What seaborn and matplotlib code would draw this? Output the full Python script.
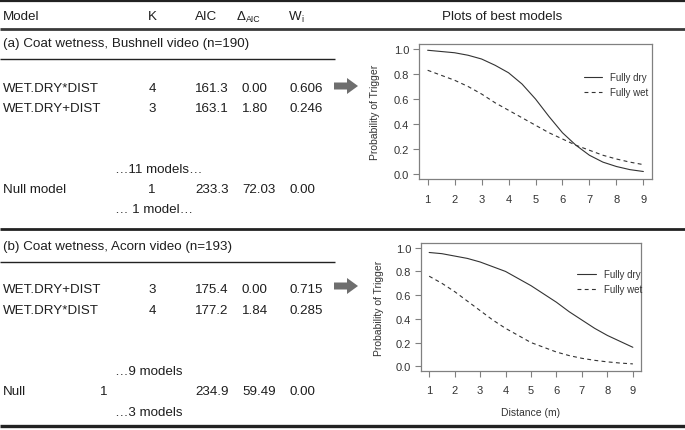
import seaborn as sns
import matplotlib.pyplot as plt
import numpy as np
import pandas as pd
from matplotlib.patches import FancyArrow

# ---- table data ----
header = ['Model', 'K', 'AIC', 'W']
title_a = '(a) Coat wetness, Bushnell video (n=190)'
models_a = ['WET.DRY*DIST', 'WET.DRY+DIST', 'Null model']
k_a = ['4', '3', '1']
aic_a = ['161.3', '163.1', '233.3']
delta_a = ['0.00', '1.80', '72.03']
w_a = ['0.606', '0.246', '0.00']
notes_a = ['\u202611 models\u2026', '\u2026 1 model\u2026']

title_b = '(b) Coat wetness, Acorn video (n=193)'
models_b = ['WET.DRY+DIST', 'WET.DRY*DIST', 'Null']
k_b = ['3', '4', '1']
aic_b = ['175.4', '177.2', '234.9']
delta_b = ['0.00', '1.84', '59.49']
w_b = ['0.715', '0.285', '0.00']
notes_b = ['\u20269 models', '\u20263 models']

# ---- curve data ----
distance = [1, 1.5, 2, 2.5, 3, 3.5, 4, 4.5, 5, 5.5, 6, 6.5, 7, 7.5, 8, 8.5, 9]
dry_a = [0.99, 0.98, 0.97, 0.95, 0.92, 0.87, 0.81, 0.72, 0.60, 0.46, 0.33, 0.23, 0.15, 0.095, 0.06, 0.035, 0.02]
wet_a = [0.83, 0.79, 0.75, 0.70, 0.64, 0.57, 0.51, 0.45, 0.39, 0.33, 0.28, 0.23, 0.19, 0.15, 0.12, 0.095, 0.075]
dry_b = [0.96, 0.95, 0.93, 0.91, 0.88, 0.84, 0.80, 0.74, 0.68, 0.61, 0.54, 0.46, 0.39, 0.32, 0.26, 0.21, 0.16]
wet_b = [0.76, 0.70, 0.63, 0.55, 0.47, 0.39, 0.32, 0.26, 0.20, 0.16, 0.12, 0.09, 0.067, 0.05, 0.037, 0.027, 0.02]
coats = ['Fully dry', 'Fully wet']

sns.set_style('white')
plt.rcParams['font.family'] = ['Liberation Sans', 'DejaVu Sans']

W, H = 685, 431
fig = plt.figure(figsize=(W / 100, H / 100), dpi=100)

# background axes in pixel coordinates for the table
bg = fig.add_axes([0, 0, 1, 1])
bg.set_xlim(0, W)
bg.set_ylim(H, 0)
bg.axis('off')

txt = '#1e1e1e'
fs = 9.6


def hline(y, x1, lw, color='#222222'):
    bg.plot([0, x1], [y, y], color=color, lw=lw, solid_capstyle='butt')


hline(1.5, W, 1.6)
hline(29.5, W, 2.0, '#3a3a3a')
hline(60, 335, 1.0)
hline(229.5, W, 2.0)
hline(262.5, 335, 1.0)
hline(427.5, W, 2.4)

# header
bg.text(3, 19.5, header[0], fontsize=fs, color=txt, va='baseline')
bg.text(152, 19.5, header[1], fontsize=fs, color=txt, va='baseline', ha='center')
bg.text(195, 19.5, header[2], fontsize=fs, color=txt, va='baseline')
bg.text(237, 19.5, '\u0394', fontsize=fs, color=txt, va='baseline')
bg.text(246, 22.5, 'AIC', fontsize=6.3, color=txt, va='baseline')
bg.text(289, 19.5, header[3], fontsize=fs, color=txt, va='baseline')
bg.text(301, 22.0, 'i', fontsize=6.3, color=txt, va='baseline')
bg.text(502, 19.5, 'Plots of best models', fontsize=fs, color=txt, va='baseline', ha='center')


def table_block(title, y_title, models, ks, aics, deltas, ws, rows_y, k_x, notes, notes_y):
    bg.text(3, y_title, title, fontsize=fs, color=txt, va='baseline')
    for i, y in enumerate(rows_y):
        bg.text(3, y, models[i], fontsize=fs, color=txt, va='baseline')
        bg.text(k_x[i], y, ks[i], fontsize=fs, color=txt, va='baseline', ha='center')
        bg.text(195, y, aics[i], fontsize=fs, color=txt, va='baseline')
        bg.text(242, y, deltas[i], fontsize=fs, color=txt, va='baseline')
        bg.text(290, y, ws[i], fontsize=fs, color=txt, va='baseline')
    for note, y in zip(notes, notes_y):
        bg.text(115, y, note, fontsize=fs, color=txt, va='baseline')


table_block(title_a, 47, models_a, k_a, aic_a, delta_a, w_a,
            [91.5, 112, 193], [152, 152, 152], notes_a, [173, 213.5])
table_block(title_b, 250, models_b, k_b, aic_b, delta_b, w_b,
            [293.5, 314.5, 395], [152, 152, 104], notes_b, [375, 416])

# arrows
for yc in [87, 287]:
    bg.add_patch(FancyArrow(334, yc, 24, 0, width=7, head_width=16, head_length=11,
                            length_includes_head=True, color='#6e6e6e', lw=0))


def curve_panel(box, dry, wet, legend_xy, hlen, xlabel, tickpad):
    l, t, r, b = box
    ax = fig.add_axes([l / W, 1 - b / H, (r - l) / W, (b - t) / H])
    df = pd.DataFrame({
        'Distance': distance * 2,
        'Probability': dry + wet,
        'Coat': [coats[0]] * len(dry) + [coats[1]] * len(wet),
    })
    sns.lineplot(data=df, x='Distance', y='Probability', style='Coat', style_order=coats,
                 dashes={coats[0]: '', coats[1]: (3.5, 3)}, color='#333333', lw=0.8,
                 legend=False, ax=ax)
    ax.set_xlim(0.68, 9.32)
    ax.set_ylim(-0.04, 1.04)
    ax.set_xticks(range(1, 10))
    ax.set_yticks([0, 0.2, 0.4, 0.6, 0.8, 1.0])
    ax.set_yticklabels(['0.0', '0.2', '0.4', '0.6', '0.8', '1.0'])
    for s in ax.spines.values():
        s.set_color('#808080')
        s.set_linewidth(0.9)
    ax.tick_params(axis='both', bottom=True, left=True, direction='out', length=4,
                   width=0.8, color='#808080', labelsize=8, labelcolor='#333333')
    ax.tick_params(axis='x', pad=tickpad)
    ax.tick_params(axis='y', pad=3)
    ax.set_ylabel('Probability of Trigger', fontsize=7.5, color='#333333')
    ax.yaxis.label.set_va('center')
    ax.yaxis.set_label_coords(-0.19, 0.5)
    ax.set_xlabel(xlabel, fontsize=7.5, color='#333333')
    ax.xaxis.label.set_va('center')
    ax.xaxis.set_label_coords(0.5, -0.32)
    ax.legend(ax.get_lines()[:2], coats, frameon=False, fontsize=7,
              loc='center left', bbox_to_anchor=(legend_xy[0] / W, 1 - legend_xy[1] / H),
              bbox_transform=fig.transFigure, borderpad=0, borderaxespad=0,
              handlelength=hlen, handletextpad=0.8, labelspacing=0.5,
              labelcolor='#333333')
    return ax


curve_panel((419, 45, 652, 180), dry_a, wet_a, (584, 85.5), 1.9, '', 6.5)
curve_panel((421, 244, 641, 372), dry_b, wet_b, (577, 282.5), 2.0, 'Distance (m)', 6)

fig.savefig('out.png', dpi=100)
